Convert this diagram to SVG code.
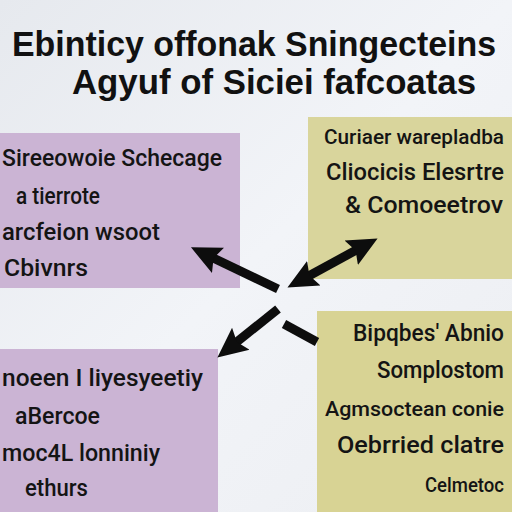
<svg xmlns="http://www.w3.org/2000/svg" width="512" height="512" viewBox="0 0 512 512">
  <style>
    .title { font-family: "Liberation Sans", Arial, sans-serif; font-weight: bold; font-size: 35px; fill: #111; }
    .t { font-family: Roboto, "Liberation Sans", Arial, sans-serif; font-weight: 500; font-size: 23px; fill: #141414; }
    .s { font-size: 20px; }
    .purple { fill: #cbb4d4; }
    .yellow { fill: #d9d59c; }
    .conn { stroke: #0d0d0d; stroke-width: 9; fill: none; }
  </style>
  <defs>
    <linearGradient id="bg" x1="0" y1="0" x2="1" y2="1">
      <stop offset="0" stop-color="#e6e9ee"/>
      <stop offset="0.5" stop-color="#f2f4f8"/>
      <stop offset="1" stop-color="#eceef2"/>
    </linearGradient>
    <marker id="ah" viewBox="0 0 30 30" markerWidth="30" markerHeight="30" refX="10" refY="15" orient="auto-start-reverse" markerUnits="userSpaceOnUse">
      <path d="M0,1 L30,15 L0,29 L5,15 z" fill="#0d0d0d"/>
    </marker>
  </defs>
  <rect width="512" height="512" fill="url(#bg)"/>

  <g id="title">
    <text class="title" x="12" y="56" textLength="484" lengthAdjust="spacingAndGlyphs">Ebinticy offonak Sningecteins</text>
    <text class="title" x="72" y="94" textLength="404" lengthAdjust="spacingAndGlyphs">Agyuf of Siciei fafcoatas</text>
  </g>

  <g id="node-top-left">
    <rect class="purple" x="0" y="133" width="240" height="155"/>
    <text class="t" x="2" y="166" textLength="220" lengthAdjust="spacingAndGlyphs">Sireeowoie Schecage</text>
    <text class="t" x="16" y="204" textLength="84" lengthAdjust="spacingAndGlyphs">a tierrote</text>
    <text class="t" x="2" y="240" textLength="158" lengthAdjust="spacingAndGlyphs">arcfeion wsoot</text>
    <text class="t" x="4" y="276" textLength="84" lengthAdjust="spacingAndGlyphs">Cbivnrs</text>
  </g>

  <g id="node-top-right">
    <rect class="yellow" x="308" y="117" width="204" height="162"/>
    <text class="t s" x="324" y="144" textLength="180" lengthAdjust="spacingAndGlyphs">Curiaer warepladba</text>
    <text class="t" x="326" y="180" textLength="178" lengthAdjust="spacingAndGlyphs">Cliocicis Elesrtre</text>
    <text class="t" x="345" y="213" textLength="158" lengthAdjust="spacingAndGlyphs">&amp; Comoeetrov</text>
  </g>

  <g id="node-bottom-left">
    <rect class="purple" x="0" y="349" width="218" height="163"/>
    <text class="t" x="2" y="386" textLength="201" lengthAdjust="spacingAndGlyphs">noeen I liyesyeetiy</text>
    <text class="t" x="15" y="424" textLength="85" lengthAdjust="spacingAndGlyphs">aBercoe</text>
    <text class="t" x="2" y="461" textLength="158" lengthAdjust="spacingAndGlyphs">moc4L lonniniy</text>
    <text class="t" x="25" y="496" textLength="63" lengthAdjust="spacingAndGlyphs">ethurs</text>
  </g>

  <g id="node-bottom-right">
    <rect class="yellow" x="317" y="311" width="195" height="201" style="fill:#d8d394"/>
    <text class="t" x="353" y="341" textLength="151" lengthAdjust="spacingAndGlyphs">Bipqbes' Abnio</text>
    <text class="t" x="377" y="378" textLength="127" lengthAdjust="spacingAndGlyphs">Somplostom</text>
    <text class="t s" x="325" y="416" textLength="179" lengthAdjust="spacingAndGlyphs">Agmsoctean conie</text>
    <text class="t" x="337" y="453" textLength="167" lengthAdjust="spacingAndGlyphs">Oebrried clatre</text>
    <text class="t s" x="425" y="492" textLength="79" lengthAdjust="spacingAndGlyphs">Celmetoc</text>
  </g>

  <g id="connectors">
    <line class="conn" x1="284" y1="324" x2="317" y2="342"/>
    <line class="conn" x1="278" y1="289" x2="209" y2="256" marker-end="url(#ah)"/>
    <line class="conn" x1="305" y1="278" x2="360" y2="248" marker-start="url(#ah)" marker-end="url(#ah)"/>
    <line class="conn" x1="278" y1="309" x2="233" y2="345" marker-end="url(#ah)"/>
  </g>
</svg>
